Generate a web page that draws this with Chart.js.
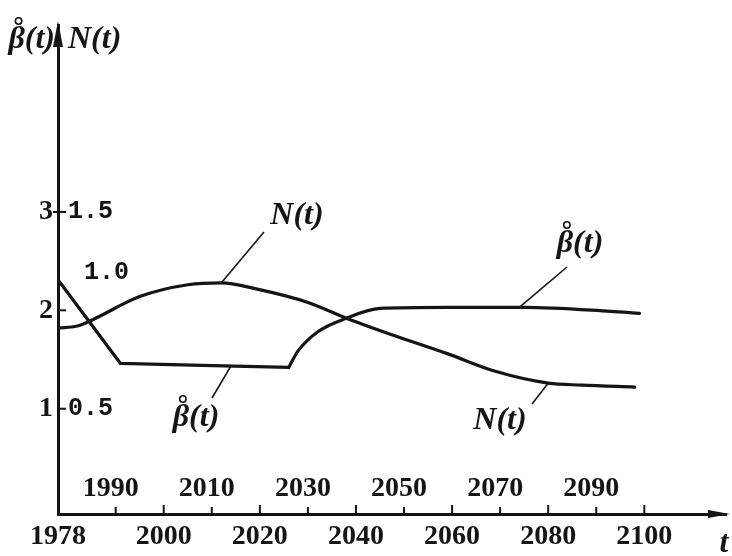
<!DOCTYPE html>
<html>
<head>
<meta charset="utf-8">
<script src="https://cdn.jsdelivr.net/npm/chart.js@4"></script>
<style>
  html, body { margin: 0; padding: 0; background: #fff; }
  #wrap { width: 732px; height: 556px; }
</style>
</head>
<body>
<div id="wrap"><canvas id="c" width="732" height="556"></canvas></div>
<script>
// β̊(t): straight fall, plateau, then a smooth rise to a new level
const betaYears  = [1978, 1991, 2008, 2026, 2028, 2032, 2038, 2045, 2059, 2075, 2093, 2099];
const betaValues = [2.31, 1.46, 1.44, 1.42, 1.59, 1.78, 1.92, 2.02, 2.03, 2.03, 1.99, 1.97];
const betaCorner = 3; // index where the plateau ends and the curved rise begins

// N(t): rises to a peak around 2012, then declines and levels off
const nYears  = [1978, 1982, 1985, 1995, 2005, 2012, 2019, 2030, 2038, 2047, 2059, 2069, 2080, 2087, 2098];
const nValues = [0.91, 0.92, 0.95, 1.07, 1.13, 1.14, 1.11, 1.04, 0.96, 0.88, 0.78, 0.69, 0.63, 0.62, 0.61];

// axis labels
const yearTicksBelow = [1978, 2000, 2020, 2040, 2060, 2080, 2100];
const yearTicksAbove = [1990, 2010, 2030, 2050, 2070, 2090];
const betaTicks = [1, 2, 3];
const nTicks = ['1.5', '1.0', '0.5'];
const nTickValues = [1.5, 1.0, 0.5];

const ink = '#151515';
const BETA_MIN = -0.07, BETA_MAX = 4.9;

const pts = (xs, ys) => xs.map((x, i) => ({ x, y: ys[i] }));

const lineStyle = {
  borderColor: ink,
  borderWidth: 3.2,
  pointRadius: 0,
  fill: false,
  borderCapStyle: 'round',
  borderJoinStyle: 'round'
};

// draws "β(t)" with a small ring over the β, or plain text otherwise
function drawLabel(ctx, text, cx, cy, align) {
  const ring = text.startsWith('β');
  const w = ctx.measureText(text).width;
  let left = align === 'right' ? cx - w : align === 'left' ? cx : cx - w / 2;
  ctx.textAlign = 'left';
  ctx.fillText(text, left, cy);
  if (ring) {
    const bw = ctx.measureText('β').width;
    ctx.save();
    ctx.lineWidth = 1.6;
    ctx.beginPath();
    ctx.arc(left + bw * 0.62, cy - 19, 3.2, 0, Math.PI * 2);
    ctx.stroke();
    ctx.restore();
  }
}

const overlay = {
  id: 'overlay',
  afterDraw(chart) {
    const { ctx, chartArea: a, scales } = chart;
    const x = scales.x, yB = scales.yB, yN = scales.yN;
    ctx.save();
    ctx.fillStyle = ink;
    ctx.strokeStyle = ink;

    // arrowheads on both axes
    ctx.beginPath();
    ctx.moveTo(a.left, a.top - 4);
    ctx.lineTo(a.left - 5, a.top + 22);
    ctx.lineTo(a.left + 5, a.top + 22);
    ctx.closePath();
    ctx.fill();
    ctx.beginPath();
    ctx.moveTo(a.right + 4, a.bottom);
    ctx.lineTo(a.right - 18, a.bottom - 4);
    ctx.lineTo(a.right - 18, a.bottom + 4);
    ctx.closePath();
    ctx.fill();

    // short tick marks on the inner side of the time axis
    ctx.lineWidth = 2;
    [...yearTicksAbove, ...yearTicksBelow.slice(1)].forEach(v => {
      const px = x.getPixelForValue(v);
      ctx.beginPath();
      ctx.moveTo(px, a.bottom);
      ctx.lineTo(px, a.bottom - (v % 20 === 0 ? 9 : 7));
      ctx.stroke();
    });

    // tick marks on the vertical axis
    betaTicks.forEach(v => {
      const py = yB.getPixelForValue(v);
      ctx.beginPath();
      ctx.moveTo(a.left - (v === 3 ? 5 : 0), py);
      ctx.lineTo(a.left + 8, py);
      ctx.stroke();
    });

    // time labels above the axis
    ctx.font = 'bold 28px "Liberation Serif"';
    ctx.textAlign = 'center';
    ctx.textBaseline = 'middle';
    yearTicksAbove.forEach(v => {
      ctx.fillText(String(v), x.getPixelForValue(v) - 5, 489);
    });

    // N(t) scale labels, right of the axis
    ctx.font = 'bold 25px "Liberation Mono"';
    ctx.textAlign = 'left';
    nTickValues.forEach((v, i) => {
      let px = a.left + 10, py = yN.getPixelForValue(v);
      if (v === 1.0) { px = a.left + 26; py -= 38; }
      ctx.fillText(nTicks[i], px, py);
    });

    // axis titles
    ctx.font = 'bold italic 32px "Liberation Serif"';
    drawLabel(ctx, 'N(t)', a.left + 10, 40, 'left');
    drawLabel(ctx, 'β(t)', a.left - 3, 40, 'right');
    ctx.textAlign = 'center';
    ctx.fillText('t', 724, 544);

    // curve labels with leader lines
    const labels = [
      { text: 'N(t)', tx: 297, ty: 216, lx: 264, ly: 232, year: 2012, val: 1.14, axis: yN },
      { text: 'β(t)', tx: 196, ty: 418, lx: 212, ly: 398, year: 2014, val: 1.435, axis: yB },
      { text: 'β(t)', tx: 580, ty: 244, lx: 567, ly: 267, year: 2074, val: 2.03, axis: yB },
      { text: 'N(t)', tx: 500, ty: 421, lx: 532, ly: 404, year: 2080, val: 0.63, axis: yN }
    ];
    labels.forEach(l => {
      ctx.lineWidth = 1.6;
      ctx.beginPath();
      ctx.moveTo(l.lx, l.ly);
      ctx.lineTo(x.getPixelForValue(l.year), l.axis.getPixelForValue(l.val));
      ctx.stroke();
      drawLabel(ctx, l.text, l.tx, l.ty, 'center');
    });
    ctx.restore();
  }
};

new Chart(document.getElementById('c'), {
  type: 'line',
  data: {
    datasets: [
      { ...lineStyle, data: pts(betaYears.slice(0, betaCorner + 1), betaValues.slice(0, betaCorner + 1)), yAxisID: 'yB', tension: 0 },
      { ...lineStyle, data: pts(betaYears.slice(betaCorner), betaValues.slice(betaCorner)), yAxisID: 'yB', cubicInterpolationMode: 'monotone' },
      { ...lineStyle, data: pts(nYears, nValues), yAxisID: 'yN', cubicInterpolationMode: 'monotone' }
    ]
  },
  options: {
    responsive: false,
    devicePixelRatio: 1,
    animation: false,
    layout: { padding: { left: 0, top: 25, right: 6, bottom: 0 } },
    plugins: { legend: { display: false }, tooltip: { enabled: false } },
    scales: {
      x: {
        type: 'linear',
        min: 1978,
        max: 2117,
        afterBuildTicks: s => { s.ticks = yearTicksBelow.map(v => ({ value: v })); },
        afterFit: s => { s.height = 42; },
        grid: { display: false, drawTicks: false },
        border: { display: true, color: ink, width: 3 },
        ticks: {
          color: ink,
          font: { family: 'Liberation Serif', weight: 'bold', size: 28 },
          padding: 6,
          maxRotation: 0,
          autoSkip: false,
          callback: v => String(v)
        }
      },
      yB: {
        type: 'linear',
        position: 'left',
        min: BETA_MIN,
        max: BETA_MAX,
        afterBuildTicks: s => { s.ticks = betaTicks.map(v => ({ value: v })); },
        afterFit: s => { s.width = 58; },
        grid: { display: false, drawTicks: false },
        border: { display: true, color: ink, width: 3 },
        ticks: {
          color: ink,
          font: { family: 'Liberation Serif', weight: 'bold', size: 28 },
          padding: 5,
          callback: v => String(v)
        }
      },
      yN: {
        type: 'linear',
        position: 'left',
        display: false,
        min: BETA_MIN / 2,
        max: BETA_MAX / 2
      }
    }
  },
  plugins: [overlay]
});
</script>
</body>
</html>
